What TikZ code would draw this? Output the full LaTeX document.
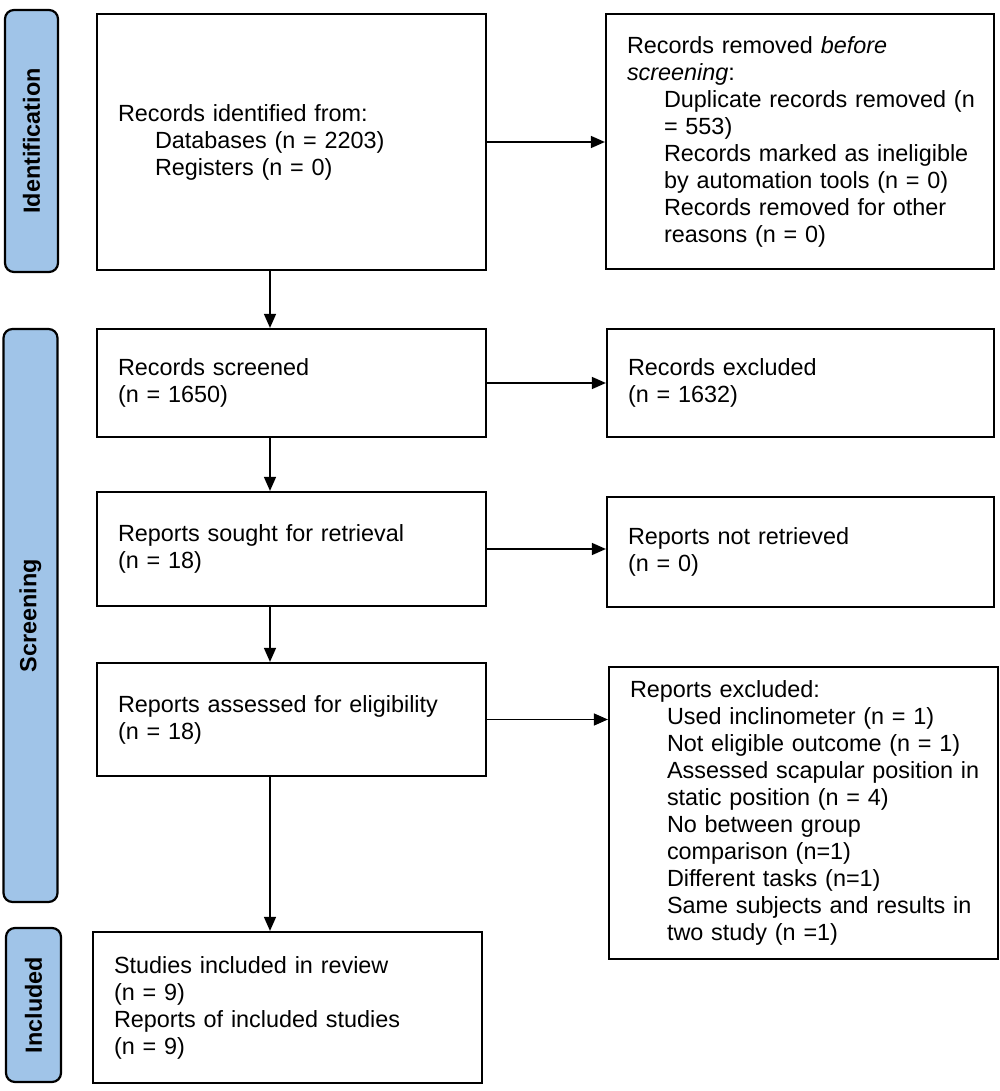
\documentclass[tikz,border=0pt]{standalone}
\usepackage{fontspec}
\setmainfont{Liberation Sans}
\usetikzlibrary{arrows.meta}
\definecolor{sideblue}{RGB}{160,196,232}
\newcommand{\myind}[1]{\hspace*{37pt}\mbox{#1}}
\begin{document}
\begin{tikzpicture}[x=1pt,y=-1pt,
  txt/.style={font=\fontsize{23.4}{27}\selectfont},
  mainbox/.style={txt,draw=black,line width=2.2pt,align=left,inner xsep=21pt,inner ysep=0pt,
    text width=#1-42pt,minimum width=#1,anchor=center},
  sidebox/.style={draw=black,line width=2.2pt,fill=sideblue,rounded corners=9pt,rotate=90,
    font=\fontsize{23.4}{27}\selectfont\bfseries,inner sep=0pt,anchor=center},
  arr/.style={line width=1.4pt,-{Triangle[length=14pt,width=12pt]}}
]
\useasboundingbox (0,0) rectangle (1000,1091);
% side bars
\node[sidebox,minimum width=262pt,minimum height=53pt] (sid) at (31.5,141) {Identification};
\node[sidebox,minimum width=573pt,minimum height=54pt] (ssc) at (30.5,615.5) {Screening};
\node[sidebox,minimum width=154pt,minimum height=55pt] (sin) at (33.5,1005) {Included};
% boxes
\node[mainbox=389pt,minimum height=256pt] (ident) at (291.5,142) {%
Records identified from:\\
\myind{Databases (n = 2203)}\\
\myind{Registers (n = 0)}};
\node[mainbox=388pt,minimum height=255pt] (removed) at (800,141.5) {%
Records removed \textit{before}\\
\textit{screening}:\\
\myind{Duplicate records removed (n}\\
\myind{= 553)}\\
\myind{Records marked as ineligible}\\
\myind{by automation tools (n = 0)}\\
\myind{Records removed for other}\\
\myind{reasons (n = 0)}};
\node[mainbox=389pt,minimum height=108pt] (screened) at (291.5,383) {%
Records screened\\
(n = 1650)};
\node[mainbox=387pt,minimum height=108pt] (excluded) at (800.5,383) {%
Records excluded\\
(n = 1632)};
\node[mainbox=389pt,minimum height=114pt] (sought) at (291.5,549) {%
Reports sought for retrieval\\
(n = 18)};
\node[mainbox=387pt,minimum height=110pt] (notret) at (800.5,552) {%
Reports not retrieved\\
(n = 0)};
\node[mainbox=389pt,minimum height=113pt] (assessed) at (291.5,719.5) {%
Reports assessed for eligibility\\
(n = 18)};
\node[mainbox=389pt,minimum height=292pt] (repexcl) at (803.5,813) {%
Reports excluded:\\
\myind{Used inclinometer (n = 1)}\\
\myind{Not eligible outcome (n = 1)}\\
\myind{Assessed scapular position in}\\
\myind{static position (n = 4)}\\
\myind{No between group}\\
\myind{comparison (n=1)}\\
\myind{Different tasks (n=1)}\\
\myind{Same subjects and results in}\\
\myind{two study (n =1)}};
\node[mainbox=389pt,minimum height=151pt] (incl) at (287.5,1007.5) {%
Studies included in review\\
(n = 9)\\
Reports of included studies\\
(n = 9)};
% arrows
\coordinate (vx) at (270,0);
\draw[arr] (ident.east) -- (removed.west |- ident.east);
\draw[arr] (screened.east) -- (excluded.west |- screened.east);
\draw[arr] (sought.east) -- (notret.west |- sought.east);
\draw[arr] (assessed.east) -- (repexcl.west |- assessed.east);
\draw[arr] (ident.south -| vx) -- (screened.north -| vx);
\draw[arr] (screened.south -| vx) -- (sought.north -| vx);
\draw[arr] (sought.south -| vx) -- (assessed.north -| vx);
\draw[arr] (assessed.south -| vx) -- (incl.north -| vx);
\end{tikzpicture}
\end{document}
